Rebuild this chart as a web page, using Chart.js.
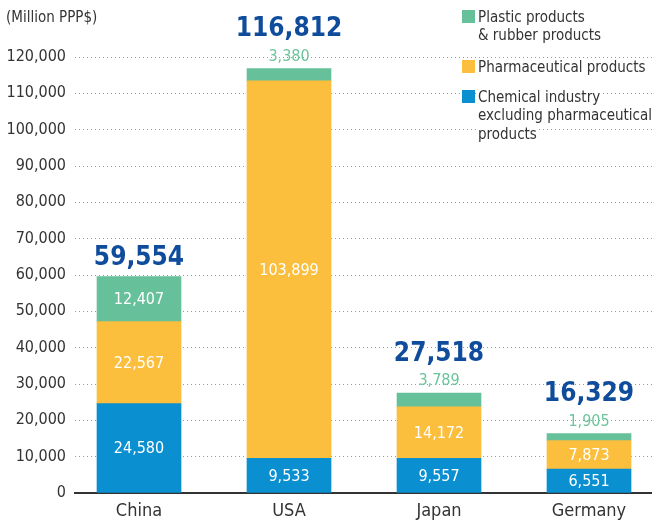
<!DOCTYPE html>
<html>
<head>
<meta charset="utf-8">
<script src="https://cdn.jsdelivr.net/npm/chart.js@4"></script>
<style>
  html, body { margin: 0; padding: 0; background: #fff; }
  #wrap { width: 652px; height: 520px; }
</style>
</head>
<body>
<div id="wrap"><canvas id="chemChart" width="652" height="520"></canvas></div>
<script>
const countries = ['China', 'USA', 'Japan', 'Germany'];
const chemical = [24580, 9533, 9557, 6551];
const pharma = [22567, 103899, 14172, 7873];
const plastic = [12407, 3380, 3789, 1905];
const totals = [59554, 116812, 27518, 16329];
const yTicks = [0, 10000, 20000, 30000, 40000, 50000, 60000, 70000, 80000, 90000, 100000, 110000, 120000];

const seriesNames = ['Chemical industry\nexcluding pharmaceutical\nproducts', 'Pharmaceutical products', 'Plastic products\n& rubber products'];
const colors = ['#0a8fd1', '#fbbe3d', '#66c19a'];
const FONT = "'Liberation Sans Narrow', 'DejaVu Sans Condensed', 'Roboto', sans-serif";

function toPoints(arr) {
    return arr.map(function(v, i) { return { x: i, y: v }; });
}
function fmt(v) { return v.toLocaleString('en-US'); }

// value labels, totals, unit and legend
const labelPlugin = {
    id: 'labels',
    afterDatasetsDraw: function(chart) {
        const ctx = chart.ctx;
        ctx.save();
        ctx.textAlign = 'center';
        ctx.textBaseline = 'middle';
        chart.data.datasets.forEach(function(ds, di) {
            const meta = chart.getDatasetMeta(di);
            meta.data.forEach(function(bar, i) {
                const h = bar.base - bar.y;
                ctx.font = '16px ' + FONT;
                if (di === 2 && h < 26) {
                    ctx.fillStyle = '#6cc49b';
                    ctx.fillText(fmt(ds.data[i].y), bar.x, bar.y - 12);
                } else {
                    ctx.fillStyle = '#ffffff';
                    ctx.fillText(fmt(ds.data[i].y), bar.x, (bar.y + bar.base) / 2 + 1);
                }
            });
        });
        const greenMeta = chart.getDatasetMeta(2);
        greenMeta.data.forEach(function(bar, i) {
            const h = bar.base - bar.y;
            const off = h < 26 ? 39 : 18;
            ctx.fillStyle = '#0f4c9c';
            ctx.font = 'bold 26px ' + FONT;
            ctx.fillText(fmt(totals[i]), bar.x, bar.y - off);
        });

        // unit
        ctx.textAlign = 'left';
        ctx.fillStyle = '#333';
        ctx.font = '15px ' + FONT;
        ctx.fillText('(Million PPP$)', 6, 18);

        // legend
        const items = [
            { name: seriesNames[2], color: colors[2], y: 17 },
            { name: seriesNames[1], color: colors[1], y: 67 },
            { name: seriesNames[0], color: colors[0], y: 97 }
        ];
        items.forEach(function(it) {
            ctx.fillStyle = it.color;
            ctx.fillRect(462, it.y - 7, 13, 13);
            it.name.split('\n').forEach(function(line, li) {
                const ly = it.y + li * 18.5;
                const w = ctx.measureText(line).width;
                ctx.fillStyle = '#fff';
                ctx.fillRect(477, ly - 8, w + 2, 16);
                ctx.fillStyle = '#333';
                ctx.fillText(line, 478, ly + 1);
            });
        });
        ctx.restore();
    }
};

new Chart(document.getElementById('chemChart').getContext('2d'), {
    type: 'bar',
    data: {
        datasets: [
            { label: seriesNames[0], data: toPoints(chemical), backgroundColor: colors[0] },
            { label: seriesNames[1], data: toPoints(pharma), backgroundColor: colors[1] },
            { label: seriesNames[2], data: toPoints(plastic), backgroundColor: colors[2] }
        ]
    },
    options: {
        responsive: false,
        animation: false,
        layout: { padding: { top: 57, right: 0, left: 0, bottom: 0 } },
        datasets: { bar: { barThickness: 84 } },
        plugins: {
            legend: { display: false },
            tooltip: { enabled: false }
        },
        scales: {
            x: {
                type: 'linear',
                stacked: true,
                offset: false,
                min: -0.4267,
                max: 3.42,
                afterBuildTicks: function(scale) {
                    scale.ticks = countries.map(function(c, i) { return { value: i }; });
                },
                afterFit: function(scale) { scale.height = 27; },
                ticks: {
                    padding: 0,
                    color: '#333',
                    font: { family: FONT, size: 18 },
                    callback: function(v) { return countries[v]; }
                },
                grid: { display: false },
                border: { color: '#333', width: 2 }
            },
            y: {
                stacked: true,
                min: 0,
                max: 120000,
                afterBuildTicks: function(scale) {
                    scale.ticks = yTicks.map(function(v) { return { value: v }; });
                },
                afterFit: function(scale) { scale.width = 75; },
                ticks: {
                    padding: 9,
                    color: '#333',
                    font: { family: FONT, size: 16 },
                    callback: function(v) { return fmt(v); }
                },
                grid: {
                    color: '#9a9a9a',
                    lineWidth: 1,
                    drawTicks: false
                },
                border: { display: false, dash: [1, 3] }
            }
        }
    },
    plugins: [labelPlugin]
});
</script>
</body>
</html>
